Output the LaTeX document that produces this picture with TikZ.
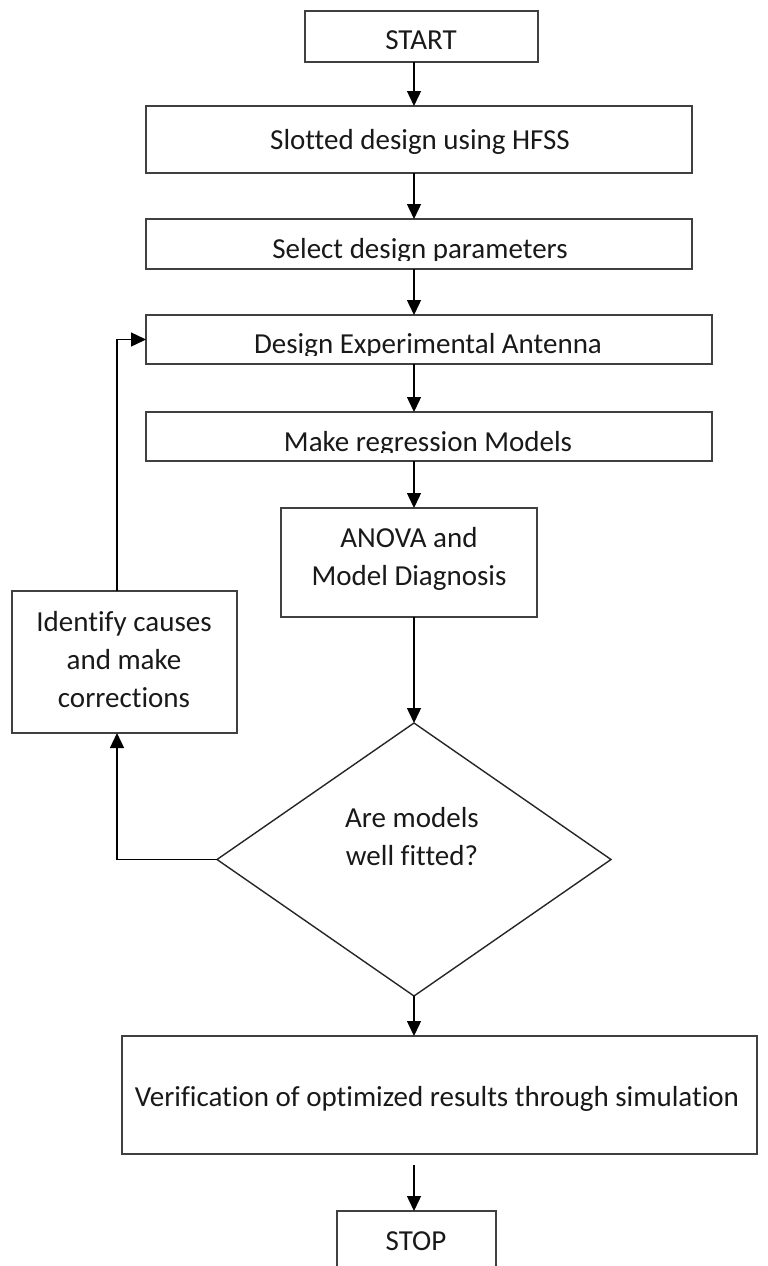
\documentclass[tikz,border=0pt]{standalone}
\usepackage{fontspec}
\setmainfont{Carlito}[Ligatures=NoCommon]
\usetikzlibrary{arrows.meta,shapes.geometric,calc}
\begin{document}
\begin{tikzpicture}[x=1pt,y=-1pt,
  box/.style={draw=black!75, line width=1.4pt, inner sep=0pt, outer sep=0pt},
  arr/.style={draw=black, line width=1.4pt, -{Triangle[length=15pt,width=14pt]}},
  txt/.style={anchor=base, inner sep=0pt, font=\fontsize{29}{38}\selectfont, text=black!90}]
\clip (0,0) rectangle (768,1266);
\coordinate (ax) at (414,0);
\coordinate (fb) at (117,0);
% boxes
\node[box, minimum width=233pt, minimum height=51pt] (start) at (421.5,36.5) {};
\node[box, minimum width=546pt, minimum height=67pt] (slotted) at (419,139.5) {};
\node[box, minimum width=546pt, minimum height=50pt] (select) at (419,244) {};
\node[box, minimum width=566pt, minimum height=49pt] (design) at (429,339.5) {};
\node[box, minimum width=566pt, minimum height=49pt] (make) at (429,436.5) {};
\node[box, minimum width=256pt, minimum height=109pt] (anova) at (409,562.5) {};
\node[box, minimum width=225pt, minimum height=142pt] (idbox) at (124.5,662) {};
\node[draw=black!85, line width=1.4pt, diamond, minimum width=394pt, minimum height=273pt, inner sep=0pt, outer sep=0pt] (dia) at (414,859.5) {};
\node[box, minimum width=635pt, minimum height=118pt] (verif) at (439.5,1095) {};
\node[box, minimum width=159pt, minimum height=80pt] (stop) at (416.5,1251) {};
% texts
\node[txt] (tstart) at (421,49) {START};
\node[txt] (tslotted) at (420,149) {Slotted design using HFSS};
\begin{scope}
\clip (select.north west) rectangle ([yshift=9pt]select.south east);
\node[txt] (tselect) at (420,258) {Select design parameters};
\end{scope}
\begin{scope}
\clip (design.north west) rectangle ([yshift=9pt]design.south east);
\node[txt] (tdesign) at (428,353) {Design Experimental Antenna};
\end{scope}
\begin{scope}
\clip (make.north west) rectangle ([yshift=9pt]make.south east);
\node[txt] (tmake) at (428,451) {Make regression Models};
\end{scope}
\node[txt] (tanova1) at (409,547) {ANOVA and};
\node[txt] (tanova2) at (409,585) {Model Diagnosis};
\node[txt] (tid1) at (124,631) {Identify causes};
\node[txt] (tid2) at (124,669) {and make};
\node[txt] (tid3) at (124,707) {corrections};
\node[txt] (tdia1) at (412,827) {Are models};
\node[txt] (tdia2) at (412,865) {well fitted?};
\node[txt] (tverif) at (437,1106) {Verification of optimized results through simulation};
\node[txt] (tstop) at (416,1250) {STOP};
% connectors
\draw[arr] (ax |- start.south) -- (ax |- slotted.north);
\draw[arr] (ax |- slotted.south) -- (ax |- select.north);
\draw[arr] (ax |- select.south) -- (ax |- design.north);
\draw[arr] (ax |- design.south) -- (ax |- make.north);
\draw[arr] (ax |- make.south) -- (ax |- anova.north);
\draw[arr] (ax |- anova.south) -- (dia.north);
\draw[arr] (dia.south) -- (ax |- verif.north);
\draw[arr] ($(ax |- verif.south)+(0,11)$) -- (ax |- stop.north);
\draw[arr] (dia.west) -| (fb |- idbox.south);
\draw[arr] (fb |- idbox.north) |- (design.west);
\end{tikzpicture}
\end{document}
